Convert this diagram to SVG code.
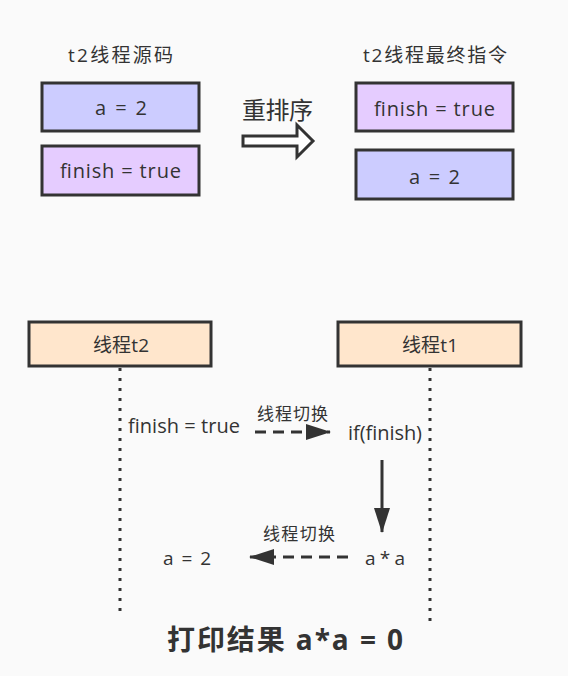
<svg xmlns="http://www.w3.org/2000/svg" width="568" height="676" viewBox="0 0 568 676">
<defs>
<style>
text{font-family:"Open Sans","Noto Sans CJK SC",sans-serif;fill:#333;}
.box{stroke:#333;stroke-width:3;}
.blue{fill:#ccccff;}
.purple{fill:#e5ccff;}
.hdr{fill:#ffe6cc;stroke:#333;stroke-width:3;}
.life{stroke:#333;stroke-width:3;stroke-dasharray:3 7;fill:none;}
.dash{stroke:#333;stroke-width:3;stroke-dasharray:11 7;fill:none;}
.solid{stroke:#333;stroke-width:3;fill:none;}
</style>
<marker id="ah" viewBox="0 0 25 16" refX="24" refY="8" markerWidth="25" markerHeight="16" markerUnits="userSpaceOnUse" orient="auto">
<path d="M0,0 L25,8 L0,16 z" fill="#333"/>
</marker>
</defs>
<rect width="568" height="676" fill="#fafafa"/>
<g id="title-src"><text x="68" y="62" font-size="19" textLength="105">t2线程源码</text></g>
<g id="title-final"><text x="363" y="62" font-size="19" textLength="144">t2线程最终指令</text></g>
<g id="src-a"><rect class="box blue" x="42" y="83" width="157" height="48"/><text x="95" y="115" font-size="20" textLength="52" lengthAdjust="spacing">a = 2</text></g>
<g id="src-finish"><rect class="box purple" x="42" y="146" width="157" height="49"/><text x="60" y="178" font-size="20" textLength="121" lengthAdjust="spacing">finish = true</text></g>
<g id="fin-finish"><rect class="box purple" x="356" y="83" width="157" height="48"/><text x="374" y="116" font-size="20" textLength="121" lengthAdjust="spacing">finish = true</text></g>
<g id="fin-a"><rect class="box blue" x="356" y="150" width="157" height="49"/><text x="409" y="184" font-size="20" textLength="51" lengthAdjust="spacing">a = 2</text></g>
<g id="reorder"><text x="242" y="119" font-size="24" textLength="71">重排序</text>
<path d="M243,136 L297,136 L297,125 L313,141 L297,157 L297,146 L243,146 z" fill="#fff" stroke="#333" stroke-width="3"/></g>
<g id="hdr-t2"><rect class="hdr" x="29" y="322" width="182" height="44"/><text x="93" y="352" font-size="19" textLength="56">线程t2</text></g>
<g id="hdr-t1"><rect class="hdr" x="338" y="322" width="183" height="44"/><text x="402" y="352" font-size="19" textLength="56">线程t1</text></g>
<g id="t-finish"><text x="128" y="433" font-size="20" textLength="112" lengthAdjust="spacing">finish = true</text></g>
<g id="t-if"><text x="348" y="440" font-size="20" textLength="74" lengthAdjust="spacing">if(finish)</text></g>
<g id="t-a2"><text x="163" y="565" font-size="19" textLength="48" lengthAdjust="spacing">a = 2</text></g>
<g id="t-aa"><text x="365" y="565" font-size="19" textLength="40" lengthAdjust="spacing">a * a</text></g>
<g id="result"><text x="167" y="650" font-size="28" font-weight="bold" textLength="236" lengthAdjust="spacing">打印结果 a*a = 0</text></g>
<g id="connectors">
<line class="life" x1="120" y1="368" x2="120" y2="612"/>
<line class="life" x1="430" y1="368" x2="430" y2="622"/>
<line class="dash" x1="255" y1="432" x2="330" y2="432" marker-end="url(#ah)"/>
<text x="257" y="420" font-size="17" textLength="71">线程切换</text>
<line class="solid" x1="382" y1="460" x2="382" y2="532" marker-end="url(#ah)"/>
<line class="dash" x1="348" y1="557" x2="250" y2="557" marker-end="url(#ah)"/>
<text x="263" y="540" font-size="17" textLength="72">线程切换</text>
</g>
</svg>
